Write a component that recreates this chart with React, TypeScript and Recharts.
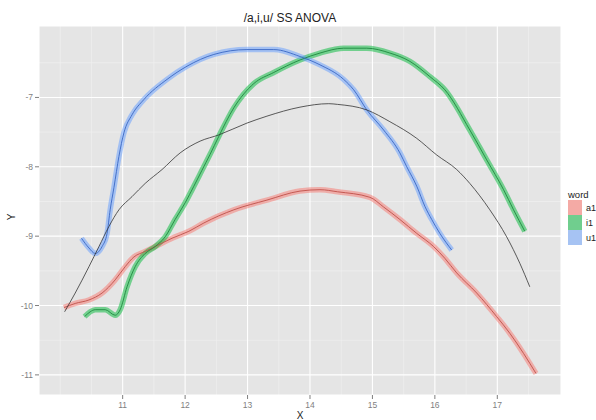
import React from 'react';
import {
  ComposedChart,
  Line,
  XAxis,
  YAxis,
  CartesianGrid,
} from 'recharts';

// axis ticks and grid
const X_TICKS = [11, 12, 13, 14, 15, 16, 17];
const Y_TICKS = [-11, -10, -9, -8, -7];
const X_MINOR = [10, 10.5, 11.5, 12.5, 13.5, 14.5, 15.5, 16.5, 17.5];
const Y_MINOR = [-10.5, -9.5, -8.5, -7.5, -6.5];

// a1 smooth
const a1X = [10.06, 10.24, 10.46, 10.67, 10.88, 11.04, 11.18, 11.36, 11.52, 11.79, 12.06, 12.3, 12.78, 13.31, 13.84, 14.16, 14.44, 14.96, 15.18, 15.44, 15.71, 15.98, 16.16, 16.35, 16.67, 16.99, 17.2, 17.42, 17.62];
const a1Y = [-10.03, -9.97, -9.92, -9.82, -9.63, -9.44, -9.3, -9.22, -9.15, -9.03, -8.93, -8.81, -8.62, -8.48, -8.35, -8.33, -8.36, -8.44, -8.58, -8.76, -8.96, -9.15, -9.32, -9.53, -9.82, -10.16, -10.4, -10.69, -10.98];

// i1 smooth
const i1X = [10.39, 10.48, 10.56, 10.72, 10.88, 10.96, 11.07, 11.2, 11.36, 11.52, 11.68, 11.84, 12.0, 12.14, 12.27, 12.4, 12.54, 12.78, 13.1, 13.42, 13.84, 14.16, 14.54, 14.91, 15.28, 15.6, 15.92, 16.16, 16.56, 16.83, 17.1, 17.26, 17.44];
const i1Y = [-10.16, -10.09, -10.06, -10.06, -10.14, -10.06, -9.73, -9.44, -9.25, -9.15, -9.01, -8.76, -8.52, -8.28, -8.05, -7.82, -7.56, -7.15, -6.8, -6.64, -6.46, -6.36, -6.29, -6.29, -6.36, -6.48, -6.7, -6.89, -7.47, -7.9, -8.33, -8.62, -8.93];

// u1 smooth
const u1X = [10.34, 10.46, 10.56, 10.67, 10.75, 10.8, 10.86, 10.94, 11.02, 11.15, 11.34, 11.71, 12.03, 12.46, 12.99, 13.42, 13.84, 14.16, 14.54, 14.7, 14.91, 15.18, 15.44, 15.55, 15.71, 15.84, 15.95, 16.08, 16.27];
const u1Y = [-9.03, -9.17, -9.25, -9.15, -8.96, -8.62, -8.3, -7.85, -7.51, -7.25, -7.03, -6.74, -6.55, -6.38, -6.31, -6.31, -6.41, -6.53, -6.74, -6.89, -7.18, -7.47, -7.8, -8.0, -8.28, -8.57, -8.76, -8.96, -9.2];

// overall smooth (black)
const allX = [10.07, 10.24, 10.46, 10.62, 10.78, 10.94, 11.15, 11.36, 11.63, 11.92, 12.24, 12.54, 12.99, 13.31, 13.84, 14.3, 14.44, 14.91, 15.28, 15.71, 16.03, 16.35, 16.56, 16.88, 17.15, 17.36, 17.52];
const allY = [-10.09, -9.82, -9.44, -9.15, -8.86, -8.62, -8.43, -8.24, -8.04, -7.8, -7.63, -7.54, -7.37, -7.27, -7.14, -7.09, -7.1, -7.18, -7.35, -7.59, -7.83, -8.04, -8.24, -8.62, -9.01, -9.39, -9.73];

const toPoints = (xs: number[], ys: number[]) => xs.map((x, i) => ({ x, y: ys[i] }));

const series = [
  { name: 'a1', data: toPoints(a1X, a1Y), band: '#F8766D', line: '#C0504A', key: '#F4AAA5' },
  { name: 'i1', data: toPoints(i1X, i1Y), band: '#00BA38', line: '#1E8A3E', key: '#70CE8E' },
  { name: 'u1', data: toPoints(u1X, u1Y), band: '#619CFF', line: '#3A68C4', key: '#A6C3F3' },
];
const overall = toPoints(allX, allY);

const tickStyle = { fontSize: 8.5, fill: '#7F7F7F', fontFamily: 'Liberation Sans, Arial, sans-serif' };

export default function App() {
  return (
    <div style={{ position: 'absolute', left: 0, top: 0, width: 596, height: 420, background: '#fff', fontFamily: 'Liberation Sans, Arial, sans-serif' }}>
      <ComposedChart width={596} height={420} margin={{ top: 26, right: 35, bottom: 0, left: 0 }}>
        <CartesianGrid
          fill="#E5E5E5"
          stroke="#F2F2F2"
          strokeWidth={0.6}
          verticalValues={X_MINOR}
          horizontalValues={Y_MINOR}
        />
        <CartesianGrid stroke="#FFFFFF" strokeWidth={1.1} />
        <XAxis
          dataKey="x"
          type="number"
          domain={[9.66, 18.02]}
          ticks={X_TICKS}
          allowDataOverflow
          axisLine={false}
          tickLine={{ stroke: '#7F7F7F' }}
          tickSize={4}
          tickMargin={3}
          height={25}
          tick={tickStyle}
        />
        <YAxis
          dataKey="y"
          type="number"
          domain={[-11.29, -5.97]}
          ticks={Y_TICKS}
          allowDataOverflow
          axisLine={false}
          tickLine={{ stroke: '#7F7F7F' }}
          tickSize={4}
          tickMargin={2}
          width={39}
          tick={tickStyle}
        />
        {series.map((s) => (
          <Line
            key={s.name + '-band'}
            data={s.data}
            dataKey="y"
            type="monotone"
            stroke={s.band}
            strokeOpacity={0.5}
            strokeWidth={5.5}
            strokeLinecap="butt"
            dot={false}
            activeDot={false}
            isAnimationActive={false}
          />
        ))}
        {series.map((s) => (
          <Line
            key={s.name + '-line'}
            data={s.data}
            dataKey="y"
            type="monotone"
            stroke={s.line}
            strokeWidth={0.9}
            dot={false}
            activeDot={false}
            isAnimationActive={false}
          />
        ))}
        <Line
          data={overall}
          dataKey="y"
          type="monotone"
          stroke="#333333"
          strokeWidth={0.8}
          dot={false}
          activeDot={false}
          isAnimationActive={false}
        />
      </ComposedChart>

      <div style={{ position: 'absolute', left: 190, width: 200, top: 12, textAlign: 'center', fontSize: 12, lineHeight: '12px', color: '#222' }}>
        /a,i,u/ SS ANOVA
      </div>
      <div style={{ position: 'absolute', left: 280, width: 40, top: 411, textAlign: 'center', fontSize: 10, lineHeight: '10px', color: '#222' }}>
        X
      </div>
      <div style={{ position: 'absolute', left: 2, width: 20, top: 212, textAlign: 'center', fontSize: 10, lineHeight: '10px', color: '#222', transform: 'rotate(-90deg)' }}>
        Y
      </div>

      <div style={{ position: 'absolute', left: 568, top: 189, fontSize: 9.5, color: '#222' }}>
        <div style={{ lineHeight: '11px', marginBottom: 0 }}>word</div>
        {series.map((s) => (
          <div key={s.name} style={{ display: 'flex', alignItems: 'center', height: 15 }}>
            <div style={{ width: 14, height: 15, background: s.key }} />
            <span style={{ marginLeft: 4, fontSize: 9 }}>{s.name}</span>
          </div>
        ))}
      </div>
    </div>
  );
}
